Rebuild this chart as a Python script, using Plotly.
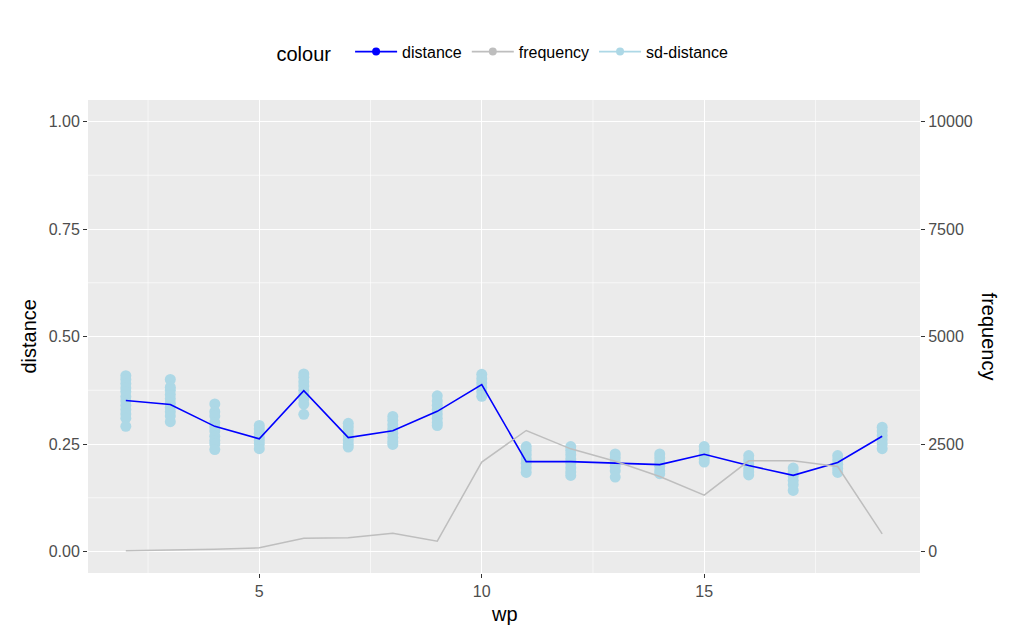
import plotly.graph_objects as go

# ---- data ----
wp = list(range(2, 20))
distance = [0.351, 0.342, 0.291, 0.262, 0.374, 0.265, 0.281, 0.326, 0.388,
            0.209, 0.209, 0.205, 0.202, 0.226, 0.200, 0.177, 0.207, 0.268]
frequency = [20, 30, 55, 85, 310, 320, 425, 240, 2080,
             2814, 2388, 2100, 1744, 1310, 2108, 2108, 1977, 410]

sd_wp2 = [0.409, 0.400, 0.390, 0.380, 0.372, 0.360, 0.350, 0.340, 0.330, 0.320, 0.310, 0.291]
sd_wp3 = [0.400, 0.382, 0.375, 0.365, 0.355, 0.345, 0.335, 0.325, 0.315, 0.302]
sd_wp4 = [0.343, 0.325, 0.315, 0.300, 0.290, 0.280, 0.268, 0.258, 0.250, 0.237]
sd_wp5 = [0.293, 0.285, 0.275, 0.265, 0.258, 0.250, 0.239]
sd_wp6 = [0.413, 0.405, 0.395, 0.385, 0.375, 0.365, 0.355, 0.343, 0.319]
sd_wp7 = [0.298, 0.290, 0.280, 0.270, 0.260, 0.250, 0.243]
sd_wp8 = [0.314, 0.305, 0.295, 0.285, 0.275, 0.265, 0.256, 0.249]
sd_wp9 = [0.362, 0.350, 0.340, 0.330, 0.320, 0.310, 0.300, 0.293]
sd_wp10 = [0.412, 0.402, 0.392, 0.382, 0.372, 0.361]
sd_wp11 = [0.244, 0.235, 0.225, 0.215, 0.205, 0.195, 0.184]
sd_wp12 = [0.244, 0.235, 0.225, 0.215, 0.205, 0.195, 0.185, 0.177]
sd_wp13 = [0.227, 0.218, 0.208, 0.198, 0.188, 0.173]
sd_wp14 = [0.227, 0.218, 0.208, 0.198, 0.188, 0.181]
sd_wp15 = [0.244, 0.235, 0.225, 0.215, 0.208]
sd_wp16 = [0.223, 0.213, 0.203, 0.193, 0.185, 0.178]
sd_wp17 = [0.194, 0.185, 0.175, 0.165, 0.155, 0.142]
sd_wp18 = [0.223, 0.213, 0.203, 0.193, 0.184]
sd_wp19 = [0.289, 0.280, 0.270, 0.260, 0.250, 0.239]

sd_groups = [sd_wp2, sd_wp3, sd_wp4, sd_wp5, sd_wp6, sd_wp7, sd_wp8, sd_wp9, sd_wp10,
             sd_wp11, sd_wp12, sd_wp13, sd_wp14, sd_wp15, sd_wp16, sd_wp17, sd_wp18, sd_wp19]

y_ticks = [0.0, 0.25, 0.5, 0.75, 1.0]
y_ticklabels = ["0.00", "0.25", "0.50", "0.75", "1.00"]
y2_ticks = [0, 2500, 5000, 7500, 10000]
y2_ticklabels = ["0", "2500", "5000", "7500", "10000"]
x_ticks = [5, 10, 15]

sd_x = [w for w, g in zip(wp, sd_groups) for _ in g]
sd_y = [v for g in sd_groups for v in g]

BLUE = "#0000FF"
GREY = "#BEBEBE"
LBLUE = "#ADD8E6"
FONT = "Liberation Sans"

fig = go.Figure()

fig.add_trace(go.Scatter(x=wp, y=frequency, mode="lines", yaxis="y2",
                         line=dict(color=GREY, width=1.5), showlegend=False))
fig.add_trace(go.Scatter(x=sd_x, y=sd_y, mode="markers",
                         marker=dict(color=LBLUE, size=11, line=dict(width=0)),
                         showlegend=False))
fig.add_trace(go.Scatter(x=wp, y=distance, mode="lines",
                         line=dict(color=BLUE, width=1.6), showlegend=False))

# legend-only keys
for name, col in [("distance", BLUE), ("frequency", GREY), ("sd-distance", LBLUE)]:
    fig.add_trace(go.Scatter(x=[None], y=[None], mode="lines+markers", name=name,
                             line=dict(color=col, width=1.6),
                             marker=dict(color=col, size=8)))

minor_x = [2.5, 7.5, 12.5, 17.5]
minor_y = [0.125, 0.375, 0.625, 0.875]
shapes = []
for v in minor_x:
    shapes.append(dict(type="line", xref="x", yref="paper", x0=v, x1=v, y0=0, y1=1,
                       line=dict(color="#FFFFFF", width=0.6), layer="below"))
for v in minor_y:
    shapes.append(dict(type="line", xref="paper", yref="y", x0=0, x1=1, y0=v, y1=v,
                       line=dict(color="#FFFFFF", width=0.6), layer="below"))

fig.update_layout(
    width=1024, height=636,
    margin=dict(l=80, r=112, t=92, b=71),
    paper_bgcolor="white",
    plot_bgcolor="#EBEBEB",
    font=dict(family=FONT, size=16, color="#4D4D4D"),
    shapes=shapes,
    xaxis=dict(range=[1.15, 19.85], tickvals=x_ticks, ticks="outside", ticklen=4,
               tickcolor="#333333", tickfont=dict(size=16, color="#4D4D4D"),
               showgrid=True, gridcolor="#FFFFFF", gridwidth=1.4, zeroline=False,
               showline=False),
    yaxis=dict(range=[-0.05, 1.05], tickvals=y_ticks, ticktext=y_ticklabels,
               ticks="outside", ticklen=4, tickcolor="#333333",
               tickfont=dict(size=16, color="#4D4D4D"),
               showgrid=True, gridcolor="#FFFFFF", gridwidth=1.4, zeroline=False),
    yaxis2=dict(range=[-500, 10500], tickvals=y2_ticks, ticktext=y2_ticklabels,
                overlaying="y", side="right", ticks="outside", ticklen=4,
                tickcolor="#333333", tickfont=dict(size=16, color="#4D4D4D"),
                showgrid=False, zeroline=False),
    legend=dict(orientation="h", x=0.5, xanchor="center", y=1.1, yanchor="middle",
                title=dict(text="colour  ", font=dict(size=20, color="black")),
                font=dict(size=16, color="black"), bgcolor="rgba(0,0,0,0)",
                itemwidth=42),
    annotations=[
        dict(text="distance", xref="paper", yref="paper", x=-0.072, y=0.5,
             xanchor="center", yanchor="middle", textangle=-90, showarrow=False,
             font=dict(size=20, color="black")),
        dict(text="frequency", xref="paper", yref="paper", x=1.084, y=0.5,
             xanchor="center", yanchor="middle", textangle=90, showarrow=False,
             font=dict(size=20, color="black")),
        dict(text="wp", xref="paper", yref="paper", x=0.5, y=-0.0865,
             xanchor="center", yanchor="middle", showarrow=False,
             font=dict(size=20, color="black")),
    ],
)

fig.write_html("out.html")
